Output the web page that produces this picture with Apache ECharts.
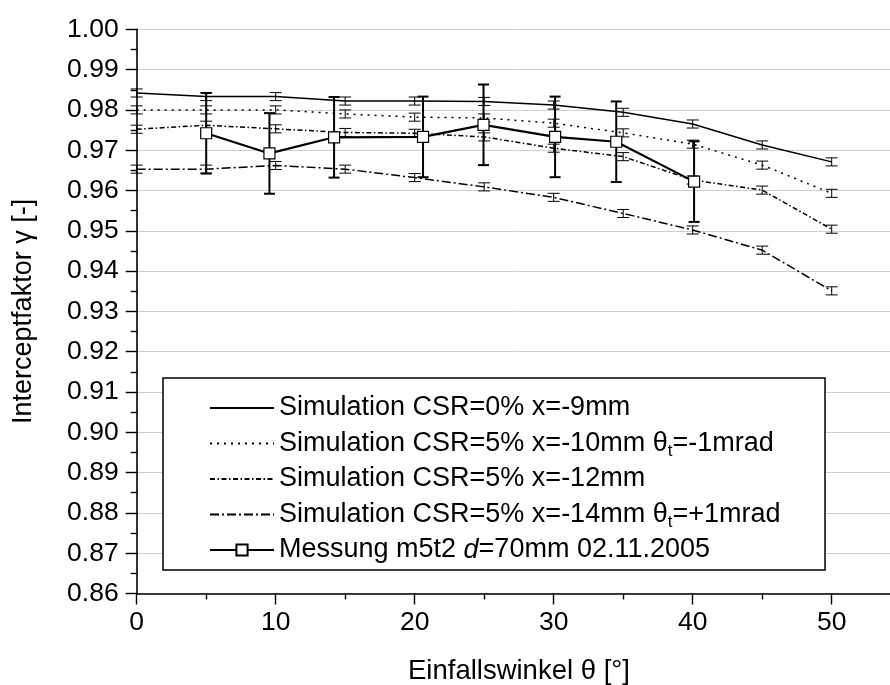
<!DOCTYPE html>
<html>
<head>
<meta charset="utf-8">
<script src="https://cdn.jsdelivr.net/npm/echarts@6/dist/echarts.min.js"></script>
<style>html,body{margin:0;padding:0;background:#fff}#c{width:890px;height:685px}</style>
</head>
<body>
<div id="c"></div>
<script>
// ---- data ----
const xSim = [0, 5, 10, 15, 20, 25, 30, 35, 40, 45, 50];
const simCSR0_x9 = [0.9842, 0.9833, 0.9833, 0.9822, 0.9822, 0.9821, 0.9812, 0.9794, 0.9765, 0.9713, 0.9671];
const simCSR5_x10 = [0.9800, 0.9800, 0.9800, 0.9790, 0.9782, 0.9780, 0.9767, 0.9743, 0.9715, 0.9663, 0.9593];
const simCSR5_x12 = [0.9752, 0.9762, 0.9753, 0.9744, 0.9742, 0.9733, 0.9705, 0.9684, 0.9626, 0.9601, 0.9504];
const simCSR5_x14 = [0.9653, 0.9653, 0.9662, 0.9653, 0.9632, 0.9609, 0.9583, 0.9543, 0.9502, 0.9452, 0.9351];
const simErr = [0.001, 0.001, 0.001, 0.001, 0.001, 0.001, 0.001, 0.001, 0.001, 0.001, 0.001];
const xMeas = [5.0, 9.55, 14.2, 20.6, 24.95, 30.1, 34.5, 40.1];
const yMeas = [0.9742, 0.9692, 0.9732, 0.9733, 0.9763, 0.9733, 0.9721, 0.9622];
const errMeas = [0.010, 0.010, 0.010, 0.010, 0.010, 0.010, 0.010, 0.010];
const xTicks = [0, 10, 20, 30, 40, 50];
const yTicks = [0.86, 0.87, 0.88, 0.89, 0.90, 0.91, 0.92, 0.93, 0.94, 0.95, 0.96, 0.97, 0.98, 0.99, 1.00];
const names = [
  'Simulation CSR=0% x=-9mm',
  'Simulation CSR=5% x=-10mm θt=-1mrad',
  'Simulation CSR=5% x=-12mm',
  'Simulation CSR=5% x=-14mm θt=+1mrad',
  'Messung m5t2 d=70mm 02.11.2005'
];
const legendRich = {};
legendRich[names[0]] = '{n|Simulation CSR=0% x=-9mm}';
legendRich[names[1]] = '{n|Simulation CSR=5% x=-10mm θ}{s|t}{n|=-1mrad}';
legendRich[names[2]] = '{n|Simulation CSR=5% x=-12mm}';
legendRich[names[3]] = '{n|Simulation CSR=5% x=-14mm θ}{s|t}{n|=+1mrad}';
legendRich[names[4]] = '{n|Messung m5t2 }{i|d}{n|=70mm 02.11.2005}';

const FONT = 'Liberation Sans';
const pairs = (xs, ys) => xs.map((x, i) => [x, ys[i]]);
const errData = (xs, ys, es) => xs.map((x, i) => [x, ys[i] - es[i], ys[i] + es[i]]);

function errRender(half, lw) {
  return function (params, api) {
    const x = api.value(0), lo = api.value(1), hi = api.value(2);
    const a = api.coord([x, lo]), b = api.coord([x, hi]);
    const st = { stroke: '#000', lineWidth: lw };
    return {
      type: 'group',
      children: [
        { type: 'line', shape: { x1: a[0], y1: a[1], x2: b[0], y2: b[1] }, style: st },
        { type: 'line', shape: { x1: a[0] - half, y1: a[1], x2: a[0] + half, y2: a[1] }, style: st },
        { type: 'line', shape: { x1: b[0] - half, y1: b[1], x2: b[0] + half, y2: b[1] }, style: st }
      ]
    };
  };
}

function simLine(name, ys, type) {
  return {
    name: name, type: 'line', data: pairs(xSim, ys), symbol: 'none', z: 2,
    lineStyle: { color: '#000', width: 1.5, type: type },
    itemStyle: { color: '#000' }
  };
}
function simErrSeries(ys) {
  return {
    type: 'custom', data: errData(xSim, ys, simErr), renderItem: errRender(6, 1),
    z: 3, silent: true, clip: false
  };
}

const hiddenSym = { color: 'rgba(0,0,0,0)', borderWidth: 0, opacity: 0 };

const chart = echarts.init(document.getElementById('c'), null, { renderer: 'canvas' });
const gridLeft = 136.7, gridTop = 29.3, gridW = 764.5, gridH = 564.2;

chart.setOption({
  animation: false,
  backgroundColor: '#fff',
  textStyle: { fontFamily: FONT },
  grid: { left: gridLeft, top: gridTop, width: gridW, height: gridH, containLabel: false, outerBoundsMode: 'none' },
  xAxis: {
    type: 'value', min: 0, max: 55, interval: 10,
    name: 'Einfallswinkel θ [°]', nameLocation: 'middle', nameGap: 64,
    nameTextStyle: { fontSize: 27.5, color: '#000', fontFamily: FONT },
    axisLine: { show: true, onZero: false, lineStyle: { color: '#000', width: 1.6 } },
    axisTick: { show: true, inside: false, length: 11, lineStyle: { color: '#000', width: 1.4 } },
    minorTick: { show: true, splitNumber: 2, length: 6, lineStyle: { color: '#000', width: 1.4 } },
    axisLabel: {
      fontSize: 26.5, color: '#000', margin: 16, fontFamily: FONT,
      formatter: v => (xTicks.indexOf(v) >= 0 ? String(v) : '')
    },
    splitLine: { show: false }
  },
  yAxis: {
    type: 'value', min: 0.86, max: 1.00, interval: 0.01,
    name: 'Interceptfaktor γ [-]', nameLocation: 'middle', nameGap: 100,
    nameTextStyle: { fontSize: 27, color: '#000', fontFamily: FONT },
    axisLine: { show: true, onZero: false, lineStyle: { color: '#000', width: 1.6 } },
    axisTick: { show: true, inside: false, length: 11, lineStyle: { color: '#000', width: 1.4 } },
    minorTick: { show: true, splitNumber: 2, length: 6, lineStyle: { color: '#000', width: 1.4 } },
    axisLabel: {
      fontSize: 26.5, color: '#000', margin: 18, fontFamily: FONT,
      formatter: v => {
        const t = yTicks.find(k => Math.abs(k - v) < 1e-6);
        return t === undefined ? '' : t.toFixed(2);
      }
    },
    splitLine: { show: true, lineStyle: { color: '#cfcfcf', width: 1 } }
  },
  legend: {
    orient: 'vertical', left: 209, top: 394, padding: 0, z: 6,
    itemWidth: 64, itemHeight: 14, itemGap: 5,
    data: [
      { name: names[0], itemStyle: hiddenSym },
      { name: names[1], itemStyle: hiddenSym },
      { name: names[2], itemStyle: hiddenSym },
      { name: names[3], itemStyle: hiddenSym },
      { name: names[4] }
    ],
    formatter: n => legendRich[n],
    textStyle: {
      color: '#000', fontFamily: FONT, fontSize: 27, lineHeight: 28,
      rich: {
        n: { fontSize: 27, lineHeight: 28, color: '#000', fontFamily: FONT },
        i: { fontSize: 27, lineHeight: 28, color: '#000', fontFamily: FONT, fontStyle: 'italic' },
        s: { fontSize: 17, lineHeight: 12, padding: [16, 0, 0, 0], color: '#000', fontFamily: FONT }
      }
    }
  },
  graphic: [{
    type: 'rect', z: 4,
    shape: { x: 163, y: 378, width: 662, height: 192 },
    style: { fill: '#fff', stroke: '#000', lineWidth: 1.5 }
  }],
  series: [
    simLine(names[0], simCSR0_x9, 'solid'),
    simLine(names[1], simCSR5_x10, [2, 5]),
    simLine(names[2], simCSR5_x12, [5, 2.5, 1.5, 2.5]),
    simLine(names[3], simCSR5_x14, [9, 3, 2, 3]),
    simErrSeries(simCSR0_x9),
    simErrSeries(simCSR5_x10),
    simErrSeries(simCSR5_x12),
    simErrSeries(simCSR5_x14),
    {
      type: 'custom', data: errData(xMeas, yMeas, errMeas), renderItem: errRender(5.5, 2),
      z: 4, silent: true, clip: false
    },
    {
      name: names[4], type: 'line', data: pairs(xMeas, yMeas), z: 5,
      symbol: 'rect', symbolSize: 11, showSymbol: true,
      lineStyle: { color: '#000', width: 2.2 },
      itemStyle: { color: '#fff', borderColor: '#000', borderWidth: 1.2 }
    }
  ]
});
</script>
</body>
</html>
